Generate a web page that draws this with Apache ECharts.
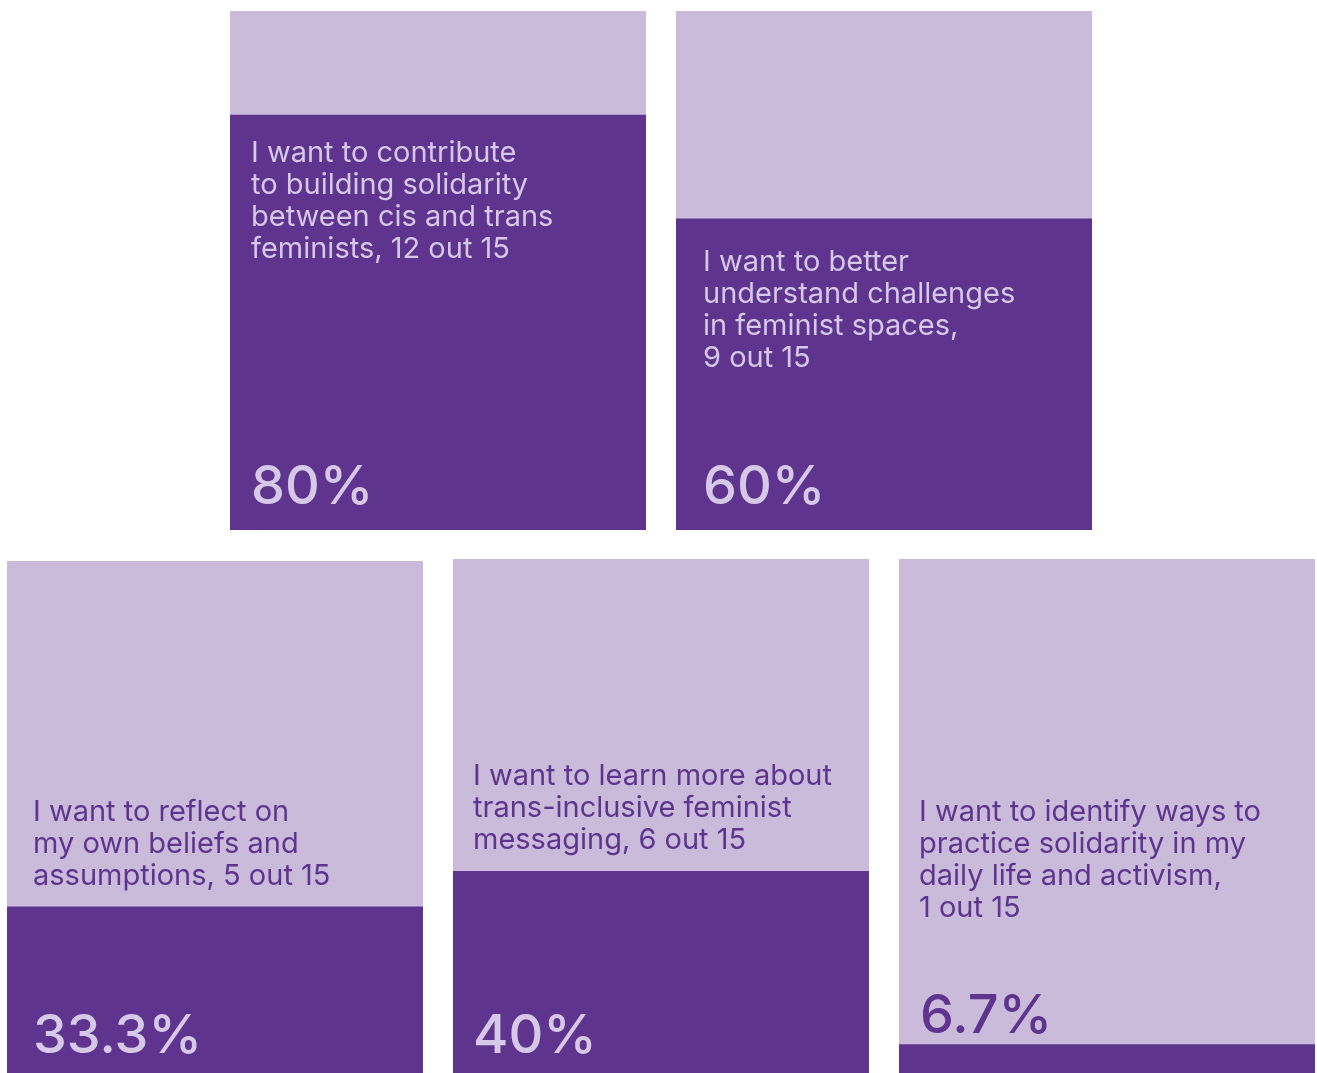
<!DOCTYPE html>
<html>
<head>
<meta charset="utf-8">
<style>
html,body{margin:0;padding:0;background:#fff;}
#chart{width:1317px;height:1073px;}
</style>
<script src="https://cdn.jsdelivr.net/npm/echarts@6/dist/echarts.min.js"></script>
</head>
<body>
<div id="chart"></div>
<script>
// Data
var statements = [
  "I want to contribute\nto building solidarity\nbetween cis and trans\nfeminists",
  "I want to better\nunderstand challenges\nin feminist spaces,\n",
  "I want to reflect on\nmy own beliefs and\nassumptions",
  "I want to learn more about\ntrans-inclusive feminist\nmessaging",
  "I want to identify ways to\npractice solidarity in my\ndaily life and activism,\n"
];
var counts = [12, 9, 5, 6, 1];
var totalRespondents = 15;
var percents = [80, 60, 33.3, 40, 6.7];
var percentLabels = ["80%", "60%", "33.3%", "40%", "6.7%"];

// Layout / style
var LIGHT = '#CABBDB';
var DARK = '#5E348E';
var TEXT_LIGHT = '#D6C9E7';
var panels = [
  {left: 230, top: 11, width: 416, height: 519, descTop: 137, inset: 22, onDark: true},
  {left: 676, top: 11, width: 416, height: 519, descTop: 246, inset: 28, onDark: true},
  {left: 7, top: 561, width: 416, height: 518, descTop: 796, inset: 27, onDark: false},
  {left: 453, top: 559, width: 416, height: 520, descTop: 760, inset: 21, onDark: false},
  {left: 899, top: 559, width: 416, height: 520, descTop: 796, inset: 21, onDark: false}
];

function descText(i) {
  var s = statements[i];
  var sep = s.charAt(s.length - 1) === '\n' ? '' : ', ';
  return s + sep + counts[i] + ' out ' + totalRespondents;
}

var grids = [], xAxes = [], yAxes = [], series = [], titles = [];
panels.forEach(function (p, i) {
  grids.push({left: p.left, top: p.top, width: p.width, height: p.height,
              containLabel: false, outerBoundsMode: 'none'});
  xAxes.push({type: 'category', gridIndex: i, data: [''], show: false});
  yAxes.push({type: 'value', gridIndex: i, min: 0, max: 100, show: false});
  var labelAbove = percents[i] < 15;
  var pctFont = {fontFamily: 'Inter', fontSize: 54, fontWeight: 500, lineHeight: 54};
  series.push({
    type: 'bar',
    xAxisIndex: i, yAxisIndex: i,
    data: [percents[i]],
    barWidth: '100%',
    silent: true,
    animation: false,
    showBackground: true,
    backgroundStyle: {color: LIGHT},
    itemStyle: {color: DARK},
    label: labelAbove ? Object.assign({
      show: true,
      position: [p.inset, -27],
      align: 'left',
      verticalAlign: 'middle',
      formatter: percentLabels[i],
      color: DARK
    }, pctFont) : Object.assign({
      show: true,
      position: 'insideBottomLeft',
      distance: 15,
      offset: [p.inset - 16, 0],
      formatter: percentLabels[i],
      color: TEXT_LIGHT
    }, pctFont)
  });
  titles.push({
    text: descText(i),
    left: p.left + p.inset - 1,
    top: p.descTop,
    padding: 0,
    textStyle: {
      fontFamily: 'Inter',
      fontSize: 29,
      fontWeight: 400,
      lineHeight: 32,
      color: p.onDark ? TEXT_LIGHT : DARK
    }
  });
});

var chart = echarts.init(document.getElementById('chart'));
chart.setOption({
  backgroundColor: '#ffffff',
  animation: false,
  title: titles,
  grid: grids,
  xAxis: xAxes,
  yAxis: yAxes,
  series: series
});
</script>
</body>
</html>
